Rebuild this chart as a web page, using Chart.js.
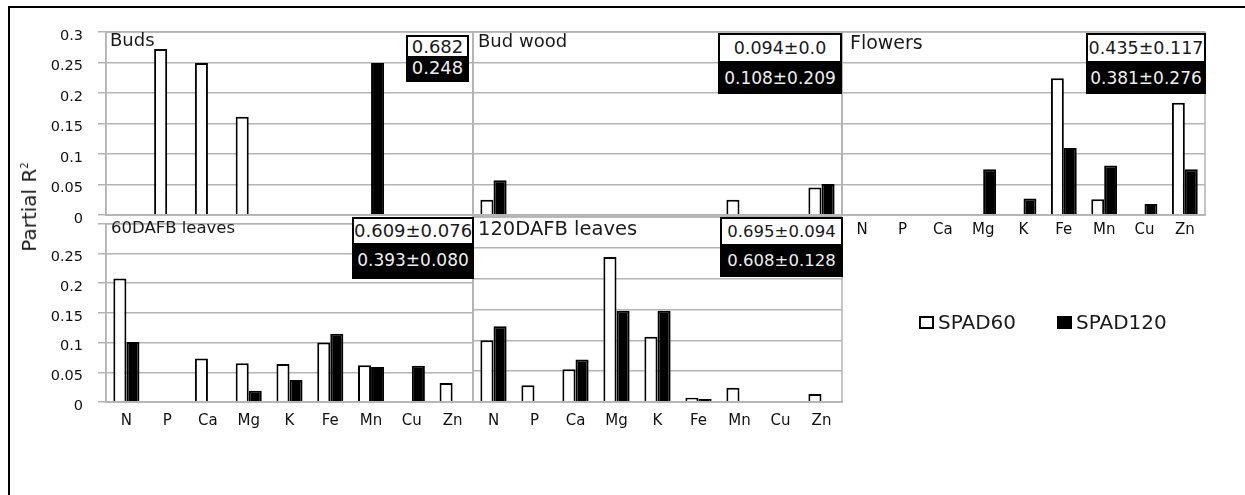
<!DOCTYPE html>
<html>
<head>
<meta charset="utf-8">
<script src="https://cdn.jsdelivr.net/npm/chart.js@4.4.1/dist/chart.umd.min.js"></script>
<style>
  body { margin: 0; background: #fff; width: 1245px; height: 495px; overflow: hidden; position: relative; font-family: "DejaVu Sans", sans-serif; }
  canvas { position: absolute; left: 0; }
  .frame { position: absolute; left: 8px; top: 6px; width: 1245px; height: 500px; border-top: 2px solid #000; border-left: 2px solid #000; }
  .ttl { position: absolute; color: #1a1a1a; line-height: 1; white-space: nowrap; }
  .box { position: absolute; box-sizing: border-box; text-align: center; white-space: nowrap; }
  .wb { background: #fff; color: #1a1a1a; border: 2px solid #000; }
  .bb { background: #000; color: #eee; }
  .ytitle { position: absolute; left: 29px; top: 207px; transform: translate(-50%, -50%) rotate(-90deg); font-size: 20px; color: #1a1a1a; white-space: nowrap; }
  .ytitle sup { font-size: 10px; }
  .leg { position: absolute; top: 312px; font-size: 20px; color: #1a1a1a; line-height: 1; }
  .sw { display: inline-block; width: 15px; height: 13px; box-sizing: border-box; border: 2px solid #000; margin-right: 4px; vertical-align: 0; }
</style>
</head>
<body>
<div class="frame"></div>
<canvas id="c1" width="1245" height="250" style="top:0"></canvas>
<canvas id="c2" width="1245" height="250" style="top:0"></canvas>
<canvas id="c3" width="1245" height="250" style="top:0"></canvas>
<canvas id="c4" width="1245" height="245" style="top:200px"></canvas>
<canvas id="c5" width="1245" height="245" style="top:200px"></canvas>

<div class="ttl" style="left:110px;top:31px;font-size:18px">Buds</div>
<div class="ttl" style="left:478px;top:32px;font-size:18px">Bud wood</div>
<div class="ttl" style="left:850px;top:33px;font-size:19px">Flowers</div>
<div class="ttl" style="left:111px;top:220px;font-size:16.5px">60DAFB leaves</div>
<div class="ttl" style="left:478px;top:219px;font-size:19.5px">120DAFB leaves</div>

<div class="box wb" style="left:406px;top:35px;width:63px;height:23px;font-size:18px;line-height:19px">0.682</div>
<div class="box bb" style="left:406px;top:57px;width:63px;height:25px;font-size:18px;line-height:21px">0.248</div>
<div class="box wb" style="left:718px;top:33px;width:124px;height:30px;font-size:17.5px;line-height:26px">0.094±0.0</div>
<div class="box bb" style="left:718px;top:62px;width:124px;height:32px;font-size:17px;line-height:32px">0.108±0.209</div>
<div class="box wb" style="left:1086px;top:33px;width:120px;height:30px;font-size:17.5px;line-height:26px">0.435±0.117</div>
<div class="box bb" style="left:1086px;top:62px;width:120px;height:32px;font-size:17px;line-height:32px">0.381±0.276</div>
<div class="box wb" style="left:352px;top:217px;width:122px;height:28px;font-size:18px;line-height:24px">0.609±0.076</div>
<div class="box bb" style="left:352px;top:244px;width:122px;height:35px;font-size:17px;line-height:33px">0.393±0.080</div>
<div class="box wb" style="left:720px;top:217px;width:123px;height:29px;font-size:16.5px;line-height:25px">0.695±0.094</div>
<div class="box bb" style="left:720px;top:245px;width:123px;height:32px;font-size:16.5px;line-height:32px">0.608±0.128</div>

<div class="ytitle">Partial R<sup>2</sup></div>

<div class="leg" style="left:919px"><span class="sw" style="background:#fff"></span>SPAD60</div>
<div class="leg" style="left:1057px"><span class="sw" style="background:#000"></span>SPAD120</div>

<script>
// elements on the x axis
const elements = ['N', 'P', 'Ca', 'Mg', 'K', 'Fe', 'Mn', 'Cu', 'Zn'];
const yTicks = [0, 0.05, 0.1, 0.15, 0.2, 0.25, 0.3];

// partial R2 per organ, SPAD60 (white) and SPAD120 (black)
const budsSpad60 = [0, 0.272, 0.249, 0.161, 0, 0, 0, 0, 0];
const budsSpad120 = [0, 0, 0, 0, 0, 0, 0.249, 0, 0];
const budwoodSpad60 = [0.025, 0, 0, 0, 0, 0, 0.025, 0, 0.045];
const budwoodSpad120 = [0.057, 0, 0, 0, 0, 0, 0, 0, 0.051];
const flowersSpad60 = [0, 0, 0, 0, 0, 0.224, 0.026, 0, 0.184];
const flowersSpad120 = [0, 0, 0, 0.075, 0.027, 0.110, 0.081, 0.018, 0.075];
const leaves60Spad60 = [0.208, 0, 0.073, 0.065, 0.064, 0.100, 0.062, 0, 0.032];
const leaves60Spad120 = [0.101, 0, 0, 0.019, 0.037, 0.115, 0.059, 0.061, 0];
const leaves120Spad60 = [0.100, 0.027, 0.053, 0.235, 0.106, 0.007, 0.023, 0, 0.013];
const leaves120Spad120 = [0.123, 0, 0.069, 0.148, 0.148, 0.005, 0, 0, 0];

const GRID = '#b4b4b4';

// gray box round each plot area
const frame = {
  id: 'frame',
  afterDraw(chart) {
    const a = chart.chartArea, ctx = chart.ctx;
    ctx.save();
    ctx.strokeStyle = GRID;
    ctx.lineWidth = 1.5;
    ctx.strokeRect(a.left, a.top, a.right - a.left, a.bottom - a.top);
    ctx.restore();
  }
};

function panel(id, s60, s120, o) {
  const bw = c => (c.raw > 0 ? 2 : 0);
  new Chart(document.getElementById(id), {
    type: 'bar',
    data: {
      labels: elements,
      datasets: [
        { label: 'SPAD60', data: s60, backgroundColor: '#fff', borderColor: '#000', borderWidth: bw },
        { label: 'SPAD120', data: s120, backgroundColor: '#000', borderColor: '#000', borderWidth: bw }
      ]
    },
    options: {
      responsive: false,
      animation: false,
      events: [],
      layout: { padding: o.pad },
      datasets: { bar: { barPercentage: 1, categoryPercentage: 0.64 } },
      plugins: { legend: { display: false }, tooltip: { enabled: false } },
      scales: {
        x: {
          grid: { display: false, drawTicks: false },
          border: { display: true, color: GRID, width: 1.5 },
          ticks: { display: o.showX, padding: o.xPad, color: '#111', font: { family: 'DejaVu Sans', size: 15 }, maxRotation: 0 },
          afterFit: s => { s.height = 30; }
        },
        y: {
          min: 0, max: 0.3,
          afterBuildTicks: s => { s.ticks = yTicks.map(v => ({ value: v })); },
          grid: { color: GRID, lineWidth: 1.5, drawTicks: o.showY, tickLength: 8 },
          border: { display: true, color: GRID, width: 1.5 },
          ticks: {
            display: o.showY,
            padding: 15,
            labelOffset: 4,
            color: '#111',
            font: { family: 'DejaVu Sans', size: 14.5 },
            callback: v => (o.hideTop && v > 0.29 ? '' : String(+v.toFixed(2)))
          },
          afterFit: s => { s.width = o.showY ? 96 : 0; }
        }
      }
    },
    plugins: [frame]
  });
}

// top row: plot area y 32..215 ; bottom row: y 217..402
panel('c1', budsSpad60, budsSpad120, { pad: { left: 10, right: 1245 - 473, top: 32, bottom: 5 }, showY: true, showX: false, xPad: 4 });
panel('c2', budwoodSpad60, budwoodSpad120, { pad: { left: 473, right: 1245 - 842, top: 32, bottom: 5 }, showY: false, showX: false, xPad: 4 });
panel('c3', flowersSpad60, flowersSpad120, { pad: { left: 842, right: 1245 - 1205, top: 32, bottom: 5 }, showY: false, showX: true, xPad: 6 });
panel('c4', leaves60Spad60, leaves60Spad120, { pad: { left: 10, right: 1245 - 473, top: 17, bottom: 13 }, showY: true, showX: true, xPad: 10, hideTop: true });
panel('c5', leaves120Spad60, leaves120Spad120, { pad: { left: 473, right: 1245 - 842, top: 17, bottom: 13 }, showY: false, showX: true, xPad: 10 });
</script>
</body>
</html>
